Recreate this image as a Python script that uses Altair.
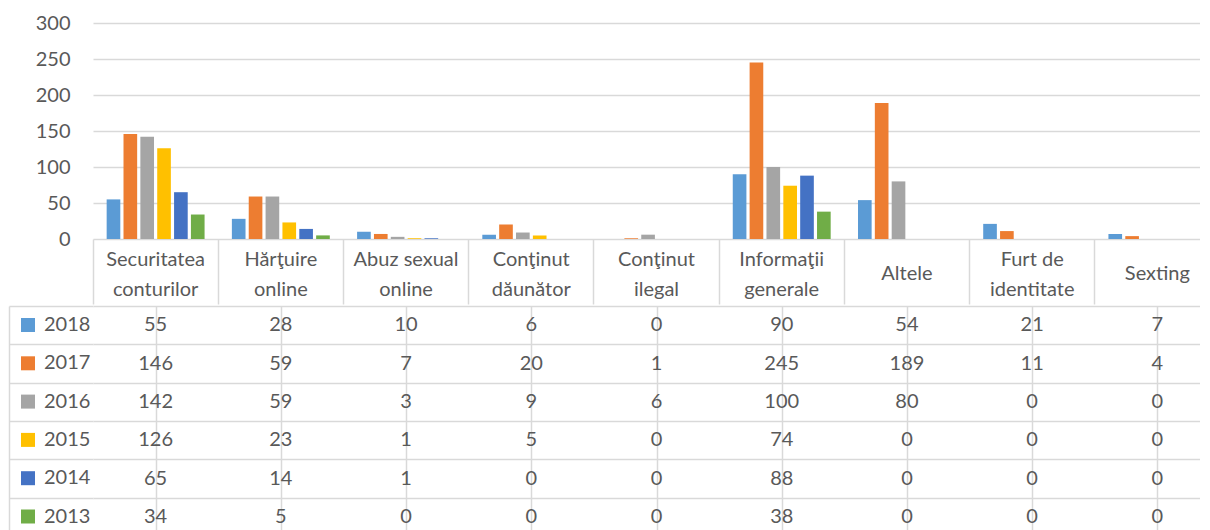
import altair as alt
import pandas as pd

categories = ["Securitatea conturilor", "Hărţuire online", "Abuz sexual online",
              "Conţinut dăunător", "Conţinut ilegal", "Informaţii generale",
              "Altele", "Furt de identitate", "Sexting"]
years = ["2018", "2017", "2016", "2015", "2014", "2013"]
v2018 = [55, 28, 10, 6, 0, 90, 54, 21, 7]
v2017 = [146, 59, 7, 20, 1, 245, 189, 11, 4]
v2016 = [142, 59, 3, 9, 6, 100, 80, 0, 0]
v2015 = [126, 23, 1, 5, 0, 74, 0, 0, 0]
v2014 = [65, 14, 1, 0, 0, 88, 0, 0, 0]
v2013 = [34, 5, 0, 0, 0, 38, 0, 0, 0]
colors = ["#5B9BD5", "#ED7D31", "#A5A5A5", "#FFC000", "#4472C4", "#70AD47"]
y_ticks = [0, 50, 100, 150, 200, 250, 300]

series = [v2018, v2017, v2016, v2015, v2014, v2013]
rows = []
for yr, vals in zip(years, series):
    for c, v in zip(categories, vals):
        rows.append({"category": c, "year": yr, "value": v})
df = pd.DataFrame(rows)

W = 1117          # plot width
XR = 1127         # full width of the 9 table columns (last one runs off the page)
FONT = "Lato"
GRID = "#D9D9D9"
TXT = "#595959"
FS = 20

label_expr = ("indexof(datum.label, ' ') < 0 ? datum.label : "
              "[slice(datum.label, 0, lastindexof(datum.label, ' ')), "
              "slice(datum.label, lastindexof(datum.label, ' ') + 1)]")

color_scale = alt.Scale(domain=years, range=colors)

top = alt.Chart(df).mark_bar().encode(
    x=alt.X("category:N", sort=categories, title=None,
            scale=alt.Scale(domain=categories, paddingInner=0, paddingOuter=0, range=[0, XR]),
            axis=alt.Axis(labelExpr=label_expr, labelAngle=0, labelBaseline="middle",
                          labelLineHeight=30,
                          labelPadding={"condition": {"test": "indexof(datum.label, ' ') >= 0",
                                                      "value": -45}, "value": -31},
                          bandPosition=0,
                          tickSize=65, tickColor=GRID, tickWidth=1.5,
                          domain=False, grid=False,
                          labelFont=FONT, labelFontSize=FS, labelColor=TXT,
                          labelOverlap=False, labelLimit=300, labelFlush=False)),
    xOffset=alt.XOffset("year:N", sort=years,
                        scale=alt.Scale(domain=years, paddingInner=0.19, paddingOuter=0.81)),
    y=alt.Y("value:Q", title=None, scale=alt.Scale(domain=[0, 300], nice=False),
            axis=alt.Axis(values=y_ticks, grid=True, gridColor=GRID, gridWidth=1.5,
                          domain=False, ticks=False, labelPadding=23,
                          labelFont=FONT, labelFontSize=FS, labelColor=TXT)),
    color=alt.Color("year:N", scale=color_scale, legend=None),
).properties(width=W, height=216)

xs2 = alt.Scale(domain=categories, paddingInner=0, paddingOuter=0, range=[0, XR])
ys2 = alt.Scale(domain=years, paddingInner=0, paddingOuter=0)

table_text = alt.Chart(df).mark_text(font=FONT, fontSize=FS, color=TXT, baseline="middle").encode(
    x=alt.X("category:N", sort=categories, title=None, scale=xs2,
            axis=alt.Axis(labels=False, ticks=False, domain=False, grid=True,
                          bandPosition=0, gridColor=GRID, gridWidth=1.5)),
    y=alt.Y("year:N", sort=years, title=None, scale=ys2,
            axis=alt.Axis(labels=False, domain=False, ticks=True, tickBand="extent",
                          tickSize=84, tickColor=GRID, tickWidth=1.5, grid=True,
                          gridColor=GRID, gridWidth=1.5)),
    text=alt.Text("value:Q"),
)

legend_layer = alt.Chart(df).mark_square(opacity=0).encode(
    x=alt.X("category:N", sort=categories, title=None, scale=xs2),
    y=alt.Y("year:N", sort=years, title=None, scale=ys2,
            axis=alt.Axis(orient="left", offset=84, labels=False, ticks=False, grid=False,
                          domain=True, domainColor=GRID, domainWidth=1.5)),
    color=alt.Color("year:N", scale=color_scale,
                    legend=alt.Legend(orient="none", legendX=-75, legendY=9, title=None,
                                      direction="vertical", symbolType="square",
                                      symbolSize=196, symbolOpacity=1, symbolStrokeWidth=0,
                                      labelFont=FONT, labelFontSize=FS, labelColor=TXT,
                                      rowPadding=18.3, padding=0, labelOffset=6)),
)

bottom = alt.layer(table_text, legend_layer).resolve_axis(y="independent").properties(
    width=W, height=230)

chart = alt.vconcat(top, bottom, spacing=0).resolve_scale(
    color="independent", x="independent", y="independent"
).resolve_legend(color="independent").properties(
    padding={"left": 0, "top": 5, "right": -20, "bottom": 0}
).configure_view(stroke=None)

chart.save("out.html", embed_options={"renderer": "svg", "actions": False})
